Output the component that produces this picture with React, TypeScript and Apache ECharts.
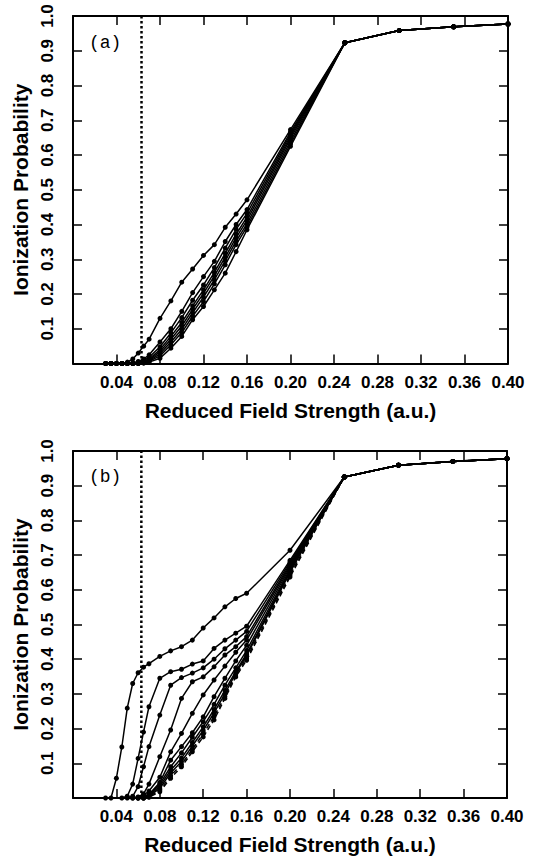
import React, { useEffect, useRef } from "react";
import * as echarts from "echarts";

// Reduced field strength grid (a.u.)
const X_LOW = [0.03, 0.035, 0.04, 0.045, 0.05, 0.055, 0.06, 0.065, 0.07, 0.08, 0.09, 0.1, 0.11, 0.12, 0.13, 0.14, 0.15, 0.16, 0.2];
const X_TAIL = [0.25, 0.3, 0.35, 0.4];

// Panel (a)
const TAIL_A = [0.923, 0.958, 0.969, 0.977];
const A1 = [0, 0, 0, 0, 0.004, 0.013, 0.03, 0.05, 0.07, 0.13, 0.18, 0.234, 0.272, 0.311, 0.342, 0.392, 0.43, 0.471, 0.673];
const A2 = [0, 0, 0, 0, 0, 0.002, 0.006, 0.013, 0.025, 0.062, 0.1, 0.15, 0.204, 0.25, 0.294, 0.351, 0.4, 0.443, 0.666];
const A3 = [0, 0, 0, 0, 0, 0, 0.003, 0.008, 0.018, 0.048, 0.088, 0.132, 0.182, 0.226, 0.276, 0.332, 0.386, 0.432, 0.66];
const A4 = [0, 0, 0, 0, 0, 0, 0.002, 0.005, 0.013, 0.04, 0.078, 0.118, 0.166, 0.212, 0.262, 0.317, 0.372, 0.421, 0.654];
const A5 = [0, 0, 0, 0, 0, 0, 0.001, 0.004, 0.01, 0.034, 0.07, 0.108, 0.156, 0.202, 0.252, 0.306, 0.362, 0.412, 0.648];
const A6 = [0, 0, 0, 0, 0, 0, 0, 0.003, 0.008, 0.028, 0.062, 0.098, 0.146, 0.191, 0.241, 0.296, 0.352, 0.402, 0.64];
const A7 = [0, 0, 0, 0, 0, 0, 0, 0.002, 0.006, 0.022, 0.054, 0.089, 0.136, 0.178, 0.229, 0.284, 0.342, 0.393, 0.632];
const A8 = [0, 0, 0, 0, 0, 0, 0, 0.001, 0.004, 0.015, 0.044, 0.078, 0.126, 0.164, 0.212, 0.26, 0.322, 0.385, 0.625];

// Panel (b)
const TAIL_B = [0.925, 0.959, 0.97, 0.978];
const B1 = [0, 0, 0.057, 0.147, 0.259, 0.33, 0.361, 0.377, 0.387, 0.408, 0.424, 0.436, 0.455, 0.49, 0.519, 0.551, 0.575, 0.59, 0.714];
const B2 = [null, null, null, 0, 0.005, 0.04, 0.114, 0.19, 0.263, 0.345, 0.364, 0.371, 0.386, 0.395, 0.431, 0.455, 0.475, 0.495, 0.685];
const B3 = [null, null, null, null, 0, 0.005, 0.033, 0.09, 0.148, 0.239, 0.325, 0.347, 0.36, 0.375, 0.4, 0.43, 0.455, 0.48, 0.68];
const B4 = [null, null, null, null, null, 0, 0.003, 0.012, 0.04, 0.119, 0.196, 0.287, 0.335, 0.349, 0.378, 0.412, 0.436, 0.465, 0.675];
const B5 = [null, null, null, null, null, 0, 0.002, 0.008, 0.02, 0.06, 0.133, 0.186, 0.244, 0.297, 0.34, 0.38, 0.42, 0.455, 0.67];
const B6 = [null, null, null, null, null, null, 0, 0.003, 0.01, 0.045, 0.109, 0.148, 0.188, 0.234, 0.292, 0.345, 0.395, 0.44, 0.665];
const B7 = [null, null, null, null, null, null, 0, 0.002, 0.008, 0.04, 0.09, 0.13, 0.175, 0.22, 0.27, 0.325, 0.375, 0.425, 0.66];
const B8 = [null, null, null, null, null, null, 0, 0.001, 0.006, 0.034, 0.08, 0.115, 0.16, 0.205, 0.255, 0.31, 0.365, 0.415, 0.655];
const B9 = [null, null, null, null, null, null, null, 0, 0.005, 0.028, 0.072, 0.105, 0.15, 0.195, 0.245, 0.3, 0.36, 0.41, 0.65];
const B10 = [null, null, null, null, null, null, null, 0, 0.004, 0.022, 0.064, 0.097, 0.14, 0.185, 0.235, 0.293, 0.355, 0.403, 0.643];
const B11 = [null, null, null, null, null, null, null, 0, 0.002, 0.018, 0.057, 0.09, 0.133, 0.176, 0.225, 0.287, 0.349, 0.397, 0.637];

const PANEL_A = [A1, A2, A3, A4, A5, A6, A7, A8];
const PANEL_B = [B1, B2, B3, B4, B5, B6, B7, B8, B9, B10, B11];
const DASHED_B = [false, false, false, false, false, false, false, false, false, true, true];

const THRESHOLD_FIELD = 0.063;
const X_MIN = 0, X_MAX = 0.4, X_STEP = 0.04;
const Y_MIN = 0, Y_MAX = 1, Y_STEP = 0.1;
const X_TITLE = "Reduced Field Strength (a.u.)";
const Y_TITLE = "Ionization Probability";
const PANEL_LABELS = ["(a)", "(b)"];

const FONT = "'Liberation Sans', Arial, Helvetica, sans-serif";

function curve(head: (number | null)[], tail: number[], xi: number, yi: number, dashed: boolean) {
  const xs = X_LOW.concat(X_TAIL);
  const ys = head.concat(tail);
  const data = xs.map((x, i) => [x, ys[i]]).filter((d) => d[1] !== null);
  return {
    type: "line",
    xAxisIndex: xi,
    yAxisIndex: yi,
    data,
    symbol: "circle",
    symbolSize: 5,
    showSymbol: true,
    silent: true,
    lineStyle: { color: "#000", width: 1.5, type: dashed ? [5, 3] : "solid" },
    itemStyle: { color: "#000" },
    z: 3,
  };
}

function threshold(xi: number, yi: number) {
  return {
    type: "line",
    xAxisIndex: xi,
    yAxisIndex: yi,
    data: [[THRESHOLD_FIELD, Y_MIN], [THRESHOLD_FIELD, Y_MAX]],
    symbol: "none",
    silent: true,
    lineStyle: { color: "#000", width: 2.5, type: [2.5, 2.5] },
    z: 2,
  };
}

const tick = { show: true, inside: true, length: 9, lineStyle: { color: "#000", width: 1.5 } };
const line = { show: true, onZero: false, lineStyle: { color: "#000", width: 2 } };

function xBottom(g: number) {
  return {
    type: "value", gridIndex: g, position: "bottom", min: X_MIN, max: X_MAX, interval: X_STEP,
    axisLine: line, axisTick: tick, splitLine: { show: false },
    axisLabel: {
      show: true, margin: 10, fontSize: 17, fontWeight: "bold", fontFamily: FONT, color: "#000",
      showMaxLabel: true, hideOverlap: false,
      formatter: (v: number) => (v === 0 ? "" : v.toFixed(2)),
    },
    name: X_TITLE, nameLocation: "middle", nameGap: 36,
    nameTextStyle: { fontSize: 21, fontWeight: "bold", fontFamily: FONT, color: "#000" },
  };
}
function xTop(g: number) {
  return {
    type: "value", gridIndex: g, position: "top", min: X_MIN, max: X_MAX, interval: X_STEP,
    axisLine: line, axisTick: tick, splitLine: { show: false }, axisLabel: { show: false },
  };
}
function yLeft(g: number) {
  return {
    type: "value", gridIndex: g, position: "left", min: Y_MIN, max: Y_MAX, interval: Y_STEP,
    axisLine: line, axisTick: tick, splitLine: { show: false },
    axisLabel: {
      show: true, rotate: 90, margin: 17, fontSize: 17, fontWeight: "bold", fontFamily: FONT, color: "#000",
      showMaxLabel: true, hideOverlap: false,
      formatter: (v: number) => (v === 0 ? "" : v.toFixed(1)),
    },
    name: Y_TITLE, nameLocation: "middle", nameGap: 38,
    nameTextStyle: { fontSize: 21, fontWeight: "bold", fontFamily: FONT, color: "#000" },
  };
}
function yRight(g: number) {
  return {
    type: "value", gridIndex: g, position: "right", min: Y_MIN, max: Y_MAX, interval: Y_STEP,
    axisLine: line, axisTick: tick, splitLine: { show: false }, axisLabel: { show: false },
  };
}

export default function App() {
  const ref = useRef<HTMLDivElement>(null);
  useEffect(() => {
    if (!ref.current) return;
    const chart = echarts.init(ref.current, null, { renderer: "svg" });
    const series: any[] = [];
    PANEL_A.forEach((h) => series.push(curve(h, TAIL_A, 0, 0, false)));
    series.push(threshold(0, 0));
    PANEL_B.forEach((h, i) => series.push(curve(h, TAIL_B, 2, 2, DASHED_B[i])));
    series.push(threshold(2, 2));
    chart.setOption({
      animation: false,
      backgroundColor: "#fff",
      grid: [
        { left: 73, top: 16, width: 435, height: 347.5 },
        { left: 73, top: 451, width: 434, height: 347 },
      ],
      xAxis: [xBottom(0), xTop(0), xBottom(1), xTop(1)],
      yAxis: [yLeft(0), yRight(0), yLeft(1), yRight(1)],
      series,
      graphic: [
        { type: "text", x: 89, y: 43, style: { text: PANEL_LABELS[0], font: "18px 'Liberation Mono', monospace", fill: "#000", verticalAlign: "middle", align: "left" } },
        { type: "text", x: 89, y: 477, style: { text: PANEL_LABELS[1], font: "18px 'Liberation Mono', monospace", fill: "#000", verticalAlign: "middle", align: "left" } },
      ],
    });
    return () => chart.dispose();
  }, []);
  return <div ref={ref} style={{ position: "fixed", left: 0, top: 0, width: 538, height: 862, background: "#fff" }} />;
}
